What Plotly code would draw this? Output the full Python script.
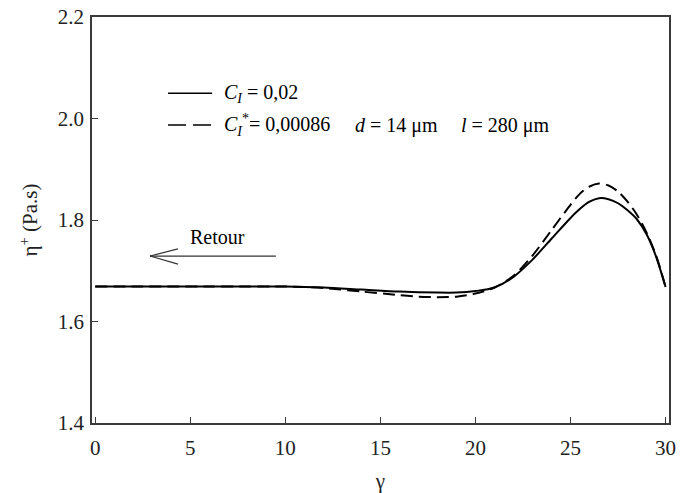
import plotly.graph_objects as go

# ---- data ----
gamma_solid = [0, 2, 4, 6, 8, 10, 12, 14, 16, 18, 19, 20, 21, 22, 23, 24, 25, 25.5, 26, 26.5, 27, 27.5, 28, 28.5, 29, 29.5, 30]
eta_solid = [1.669, 1.669, 1.669, 1.669, 1.669, 1.669, 1.667, 1.663, 1.659, 1.657, 1.657, 1.660, 1.667, 1.688, 1.722, 1.763, 1.804, 1.822, 1.836, 1.843, 1.841, 1.833, 1.819, 1.801, 1.772, 1.728, 1.668]

gamma_dash = [0, 2, 4, 6, 8, 10, 11, 12, 14, 16, 17, 18, 19, 20, 21, 22, 23, 24, 25, 25.5, 26, 26.5, 27, 27.5, 28, 28.5, 29, 29.5, 30]
eta_dash = [1.669, 1.669, 1.669, 1.669, 1.669, 1.669, 1.668, 1.666, 1.659, 1.652, 1.649, 1.648, 1.649, 1.655, 1.667, 1.690, 1.730, 1.780, 1.830, 1.852, 1.866, 1.872, 1.868, 1.856, 1.836, 1.810, 1.775, 1.730, 1.668]

x_ticks = [0, 5, 10, 15, 20, 25, 30]
y_ticks = [1.4, 1.6, 1.8, 2.0, 2.2]

FONT = "Liberation Serif, Times New Roman, Times, serif"
AX = "#3a3a3a"

fig = go.Figure()
fig.add_trace(go.Scatter(x=gamma_solid, y=eta_solid, mode="lines", line=dict(color="black", width=2, shape="spline", smoothing=0.8), showlegend=False))
fig.add_trace(go.Scatter(x=gamma_dash, y=eta_dash, mode="lines", line=dict(color="black", width=2, dash="12px,6px", shape="spline", smoothing=0.8), showlegend=False))

# legend samples
fig.add_shape(type="line", x0=3.83, x1=6.15, y0=2.050, y1=2.050, line=dict(color="black", width=1.5))
fig.add_shape(type="line", x0=3.83, x1=6.15, y0=1.987, y1=1.987, line=dict(color="black", width=1.5, dash="18px,7px"))
ann_font = dict(family=FONT, size=20, color="black")
fig.add_annotation(x=6.66, y=2.050, text="<i>C</i><sub><i>I</i></sub> = 0,02", showarrow=False, xanchor="left", yanchor="middle", font=ann_font)
fig.add_annotation(x=6.66, y=1.987, text="<i>C</i><sub><i>I</i></sub><sup>*</sup>= 0,00086", showarrow=False, xanchor="left", yanchor="middle", font=ann_font)
fig.add_annotation(x=13.55, y=1.987, text="<i>d</i> = 14 μm", showarrow=False, xanchor="left", yanchor="middle", font=ann_font)
fig.add_annotation(x=19.12, y=1.987, text="<i>l</i> = 280 μm", showarrow=False, xanchor="left", yanchor="middle", font=ann_font)

# Retour arrow
fig.add_annotation(x=6.41, y=1.766, text="Retour", showarrow=False, xanchor="center", yanchor="middle", font=ann_font)
fig.add_shape(type="line", x0=2.88, x1=9.5, y0=1.729, y1=1.729, line=dict(color="#333", width=1.2))
fig.add_shape(type="line", x0=2.88, x1=4.35, y0=1.729, y1=1.743, line=dict(color="#333", width=1.2))
fig.add_shape(type="line", x0=2.88, x1=4.35, y0=1.729, y1=1.713, line=dict(color="#333", width=1.2))

fig.update_xaxes(range=[-0.17, 30.18], tickvals=x_ticks, ticks="inside", ticklen=6, tickwidth=1, tickcolor=AX,
                 showline=True, linecolor=AX, linewidth=1.5, mirror=True, showgrid=False, zeroline=False,
                 ticklabelstandoff=5, automargin=False,
                 tickfont=dict(family=FONT, size=21, color="#222"),
                 title=dict(text="γ", font=dict(family=FONT, size=21, color="#222"), standoff=18))
fig.update_yaxes(range=[1.4, 2.2], tickvals=y_ticks, tickformat=".1f", ticks="inside", ticklen=6, tickwidth=1, tickcolor=AX,
                 showline=True, linecolor=AX, linewidth=1.5, mirror=True, showgrid=False, zeroline=False,
                 ticklabelstandoff=2, automargin=False,
                 tickfont=dict(family=FONT, size=21, color="#222"),
                 title=dict(text="η<sup>+</sup> (Pa.s)", font=dict(family=FONT, size=21, color="#222"), standoff=14))
fig.update_layout(width=695, height=493, margin=dict(l=92, r=26, t=17, b=70, autoexpand=False),
                  font=dict(family=FONT, size=20, color="#222"),
                  plot_bgcolor="white", paper_bgcolor="white")
fig.write_html("out.html")
